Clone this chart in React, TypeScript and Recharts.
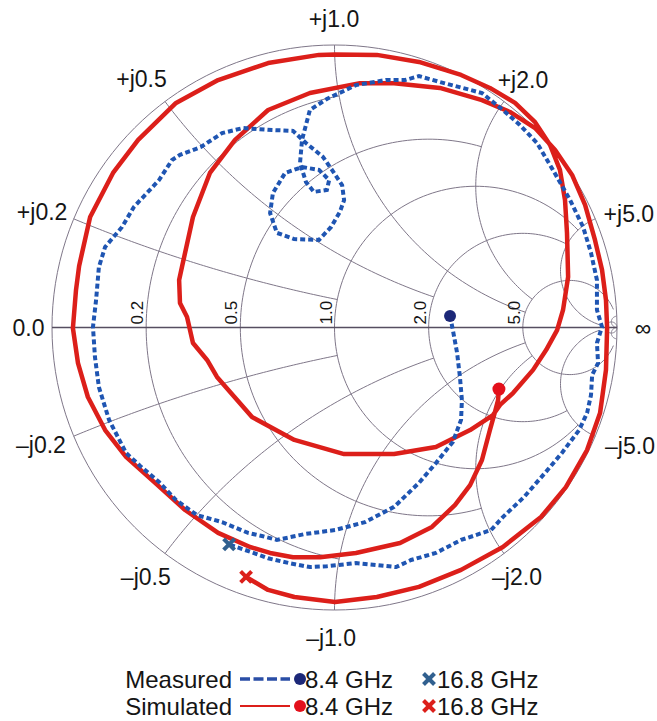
import React from "react";
import { ScatterChart, Scatter, XAxis, YAxis } from "recharts";

const W = 657;
const H = 721;
// where |Γ| = 1 sits on the page
const CX = 334.5;
const CY = 327.5;
const R = 282.5;
const xDomain = [-CX / R, (W - CX) / R];
const yDomain = [(CY - H) / R, CY / R];

const GRID = "#7f7789";
const AXIS = "#564e60";
const RED = "#dc1f1a";
const BLUE = "#1f55b2";
const NAVY = "#1c2878";
const STEEL = "#31608f";
const INK = "#151515";
const FONT = "'Liberation Sans', Arial, Helvetica, sans-serif";

// grid values, MATLAB style: circle value / where it stops
const resistanceValues = [0.2, 0.5, 1, 2, 5];
const resistanceEnds = [1, 2, 5, 5, 30];
const reactanceValues = [0.2, 0.5, 1, 2, 5];
const reactanceEnds = [1, 2, 5, 5, 30];
const nearInfinity = 50;
const resistanceLabels = ["0.2", "0.5", "1.0", "2.0", "5.0"];

const edgeLabels = [
  { text: "+j1.0", x: -0.002, y: 1.092 },
  { text: "+j0.5", x: -0.683, y: 0.88 },
  { text: "+j2.0", x: 0.667, y: 0.876 },
  { text: "+j0.2", x: -1.035, y: 0.409 },
  { text: "+j5.0", x: 1.042, y: 0.402 },
  { text: "0.0", x: -1.083, y: 0 },
  { text: "\u221e", x: 1.092, y: 0 },
  { text: "\u2013j0.2", x: -1.039, y: -0.416 },
  { text: "\u2013j5.0", x: 1.046, y: -0.419 },
  { text: "\u2013j0.5", x: -0.668, y: -0.883 },
  { text: "\u2013j2.0", x: 0.646, y: -0.883 },
  { text: "\u2013j1.0", x: -0.012, y: -1.099 },
];

// reflection coefficient (Re, Im)
const measured = [
  [0.409, 0.041], [0.419, -0.009], [0.434, -0.09], [0.444, -0.175], [0.451, -0.257],
  [0.448, -0.327], [0.419, -0.405], [0.359, -0.48], [0.299, -0.55], [0.211, -0.635],
  [0.108, -0.689], [0.002, -0.717], [-0.104, -0.731], [-0.204, -0.752], [-0.257, -0.738],
  [-0.306, -0.727], [-0.398, -0.689], [-0.487, -0.664], [-0.561, -0.611], [-0.621, -0.547],
  [-0.688, -0.49], [-0.738, -0.444], [-0.798, -0.327], [-0.834, -0.211], [-0.848, -0.104],
  [-0.855, 0.002], [-0.844, 0.097], [-0.834, 0.214], [-0.812, 0.285], [-0.752, 0.356],
  [-0.71, 0.427], [-0.664, 0.476], [-0.621, 0.522], [-0.575, 0.593], [-0.547, 0.611],
  [-0.473, 0.639], [-0.398, 0.688], [-0.324, 0.706], [-0.221, 0.699], [-0.147, 0.696],
  [-0.101, 0.653], [-0.041, 0.604], [-0.009, 0.558], [0.027, 0.504], [0.034, 0.451],
  [0.019, 0.409], [-0.012, 0.356], [-0.055, 0.31], [-0.143, 0.313], [-0.204, 0.335],
  [-0.228, 0.405], [-0.218, 0.476], [-0.175, 0.547], [-0.115, 0.568], [-0.055, 0.558],
  [-0.019, 0.522], [-0.027, 0.487], [-0.073, 0.48], [-0.101, 0.515], [-0.122, 0.582],
  [-0.115, 0.664], [-0.087, 0.77], [-0.027, 0.809], [0.076, 0.858], [0.182, 0.876],
  [0.25, 0.876], [0.299, 0.89], [0.373, 0.869], [0.522, 0.83], [0.596, 0.77],
  [0.656, 0.717], [0.717, 0.653], [0.773, 0.558], [0.834, 0.451], [0.88, 0.356],
  [0.908, 0.264], [0.929, 0.168], [0.929, 0.062], [0.947, 0.002], [0.929, -0.055],
  [0.933, -0.126], [0.912, -0.168], [0.908, -0.239], [0.894, -0.303], [0.866, -0.363],
  [0.805, -0.444], [0.745, -0.515], [0.671, -0.6], [0.596, -0.671], [0.554, -0.717],
  [0.448, -0.752], [0.359, -0.798], [0.271, -0.823], [0.218, -0.848], [0.15, -0.841],
  [0.076, -0.834], [-0.027, -0.845], [-0.087, -0.848], [-0.161, -0.834], [-0.235, -0.817],
  [-0.292, -0.796], [-0.373, -0.768],
];

const simulated = [
  [0.582, -0.218], [0.579, -0.257], [0.568, -0.299], [0.55, -0.363], [0.522, -0.469],
  [0.48, -0.558], [0.427, -0.628], [0.345, -0.706], [0.232, -0.763], [0.076, -0.798],
  [-0.051, -0.813], [-0.147, -0.813], [-0.228, -0.798], [-0.299, -0.777], [-0.412, -0.727],
  [-0.529, -0.646], [-0.635, -0.55], [-0.738, -0.458], [-0.812, -0.363], [-0.873, -0.246],
  [-0.908, -0.126], [-0.926, -0.002], [-0.915, 0.133], [-0.904, 0.218], [-0.865, 0.391],
  [-0.784, 0.547], [-0.695, 0.664], [-0.561, 0.795], [-0.412, 0.876], [-0.235, 0.936],
  [-0.055, 0.965], [0.002, 0.966], [0.15, 0.965], [0.299, 0.94], [0.448, 0.894],
  [0.55, 0.848], [0.639, 0.795], [0.71, 0.727], [0.763, 0.646], [0.798, 0.558],
  [0.816, 0.451], [0.823, 0.335], [0.827, 0.179], [0.809, 0.062], [0.788, -0.009],
  [0.749, -0.08], [0.703, -0.15], [0.632, -0.232], [0.586, -0.274], [0.561, -0.31],
  [0.48, -0.363], [0.359, -0.423], [0.211, -0.448], [0.034, -0.448], [-0.142, -0.398],
  [-0.292, -0.317], [-0.416, -0.175], [-0.451, -0.115], [-0.501, -0.055], [-0.522, 0.037],
  [-0.547, 0.087], [-0.55, 0.168], [-0.54, 0.214], [-0.501, 0.391], [-0.441, 0.547],
  [-0.352, 0.664], [-0.235, 0.77], [-0.087, 0.83], [0.09, 0.865], [0.211, 0.865],
  [0.373, 0.848], [0.522, 0.805], [0.621, 0.763], [0.71, 0.706], [0.781, 0.628],
  [0.841, 0.54], [0.887, 0.434], [0.922, 0.31], [0.947, 0.204], [0.961, 0.097],
  [0.965, -0.002], [0.961, -0.15], [0.94, -0.303], [0.894, -0.434], [0.819, -0.565],
  [0.731, -0.671], [0.596, -0.777], [0.448, -0.858], [0.299, -0.918], [0.15, -0.954],
  [0.002, -0.972], [-0.142, -0.954], [-0.235, -0.929], [-0.313, -0.883],
];

const measured84 = [0.409, 0.041];
const measured168 = [-0.373, -0.768];
const simulated84 = [0.582, -0.218];
const simulated168 = [-0.313, -0.883];

type Pt = { x: number; y: number };
const toPts = (rows: number[][]): Pt[] => rows.map(([x, y]) => ({ x, y }));

function gamma(r: number, x: number): Pt {
  const d = (r + 1) * (r + 1) + x * x;
  return { x: (r * r + x * x - 1) / d, y: (2 * x) / d };
}

function arc(cx: number, cy: number, rad: number, a0: number, a1: number, n = 90): Pt[] {
  const pts: Pt[] = [];
  for (let i = 0; i <= n; i++) {
    const a = a0 + ((a1 - a0) * i) / n;
    pts.push({ x: cx + rad * Math.cos(a), y: cy + rad * Math.sin(a) });
  }
  return pts;
}

const norm = (a: number) => (a < 0 ? a + 2 * Math.PI : a);

function resistanceCircle(r: number, xEnd: number | null): Pt[] {
  const c = r / (r + 1);
  const rho = 1 / (r + 1);
  if (xEnd === null) return arc(c, 0, rho, 0, 2 * Math.PI, 160);
  const e = gamma(r, xEnd);
  const t = Math.atan2(e.y, e.x - c);
  return arc(c, 0, rho, t, 2 * Math.PI - t, 140);
}

function reactanceArc(x: number, rEnd: number): Pt[] {
  const s = Math.sign(x);
  const ax = Math.abs(x);
  const cy = 1 / ax;
  const p0 = gamma(0, ax);
  const p1 = gamma(rEnd, ax);
  const a0 = norm(Math.atan2(p0.y - cy, p0.x - 1));
  const a1 = norm(Math.atan2(p1.y - cy, p1.x - 1));
  return arc(1, cy, 1 / ax, a0, a1, 80).map((p) => ({ x: p.x, y: s * p.y }));
}

const gridLines: Pt[][] = [
  resistanceCircle(0, null),
  ...resistanceValues.map((r, i) => resistanceCircle(r, resistanceEnds[i])),
  resistanceCircle(nearInfinity, null),
  ...reactanceValues.flatMap((x, i) => [
    reactanceArc(x, reactanceEnds[i]),
    reactanceArc(-x, reactanceEnds[i]),
  ]),
  reactanceArc(nearInfinity, 1e9),
  reactanceArc(-nearInfinity, 1e9),
];
const realAxis: Pt[] = [{ x: -1, y: 0 }, { x: 1, y: 0 }];

const resLabelData = resistanceValues.map((r, i) => ({
  x: (r - 1) / (r + 1),
  y: 0,
  text: resistanceLabels[i],
}));

const NoDot = () => <g />;

const EdgeLabel = (p: any) => (
  <text x={p.cx} y={p.cy} dy="0.36em" textAnchor="middle" fontSize={23} fontFamily={FONT} fill={INK}>
    {p.payload.text}
  </text>
);

const ResLabel = (p: any) => {
  const x = p.cx - 3;
  const y = p.cy - 3;
  return (
    <text x={x} y={y} transform={`rotate(-90 ${x} ${y})`} fontSize={17} fontFamily={FONT} fill={INK}>
      {p.payload.text}
    </text>
  );
};

function Cross({ cx, cy, size, color, width }: { cx: number; cy: number; size: number; color: string; width: number }) {
  const h = size / 2;
  return (
    <g stroke={color} strokeWidth={width}>
      <line x1={cx - h} y1={cy - h} x2={cx + h} y2={cy + h} />
      <line x1={cx - h} y1={cy + h} x2={cx + h} y2={cy - h} />
    </g>
  );
}

const dotShape = (color: string, r: number) => (p: any) => <circle cx={p.cx} cy={p.cy} r={r} fill={color} />;
const crossShape = (color: string) => (p: any) => <Cross cx={p.cx} cy={p.cy} size={11} color={color} width={4} />;

function LegendRows() {
  const rows = [
    { name: "Measured", line: { stroke: "#2a4ea6", strokeWidth: 3.5, strokeDasharray: "10 3.5" }, dot: NAVY, cross: STEEL, y: 28 },
    { name: "Simulated", line: { stroke: RED, strokeWidth: 2 }, dot: "#e3101b", cross: RED, y: 55 },
  ];
  return (
    <svg width={W} height={70} style={{ position: "absolute", left: 0, top: 651 }}>
      {rows.map((r) => (
        <g key={r.name} fontFamily={FONT} fontSize={24} fill={INK}>
          <text x={232} y={r.y} dy="0.36em" textAnchor="end">{r.name}</text>
          <line x1={240} x2={290} y1={r.y} y2={r.y} {...r.line} />
          <circle cx={300} cy={r.y} r={6} fill={r.dot} />
          <text x={305} y={r.y} dy="0.36em">8.4 GHz</text>
          <Cross cx={429} cy={r.y} size={11} color={r.cross} width={4} />
          <text x={437} y={r.y} dy="0.36em">16.8 GHz</text>
        </g>
      ))}
    </svg>
  );
}

export default function App() {
  return (
    <div style={{ position: "absolute", left: 0, top: 0, width: W, height: H, background: "#fff" }}>
      <ScatterChart width={W} height={H} margin={{ top: 0, right: 0, bottom: 0, left: 0 }}>
        <XAxis type="number" dataKey="x" domain={xDomain} hide allowDataOverflow />
        <YAxis type="number" dataKey="y" domain={yDomain} hide allowDataOverflow />
        {gridLines.map((pts, i) => (
          <Scatter key={`grid-${i}`} data={pts} line={{ stroke: GRID, strokeWidth: 1 }} shape={NoDot} isAnimationActive={false} />
        ))}
        <Scatter data={realAxis} line={{ stroke: AXIS, strokeWidth: 1.3 }} shape={NoDot} isAnimationActive={false} />
        <Scatter data={resLabelData} shape={ResLabel} isAnimationActive={false} />
        <Scatter data={edgeLabels} shape={EdgeLabel} isAnimationActive={false} />
        <Scatter
          data={toPts(simulated)}
          line={{ stroke: RED, strokeWidth: 4.5, strokeLinejoin: "round" }}
          shape={NoDot}
          isAnimationActive={false}
        />
        <Scatter
          data={toPts(measured)}
          line={{ stroke: BLUE, strokeWidth: 4, strokeDasharray: "5 3" }}
          shape={NoDot}
          isAnimationActive={false}
        />
        <Scatter data={toPts([measured84])} shape={dotShape(NAVY, 6)} isAnimationActive={false} />
        <Scatter data={toPts([measured168])} shape={crossShape(STEEL)} isAnimationActive={false} />
        <Scatter data={toPts([simulated84])} shape={dotShape("#e3101b", 6.5)} isAnimationActive={false} />
        <Scatter data={toPts([simulated168])} shape={crossShape(RED)} isAnimationActive={false} />
      </ScatterChart>
      <LegendRows />
    </div>
  );
}
